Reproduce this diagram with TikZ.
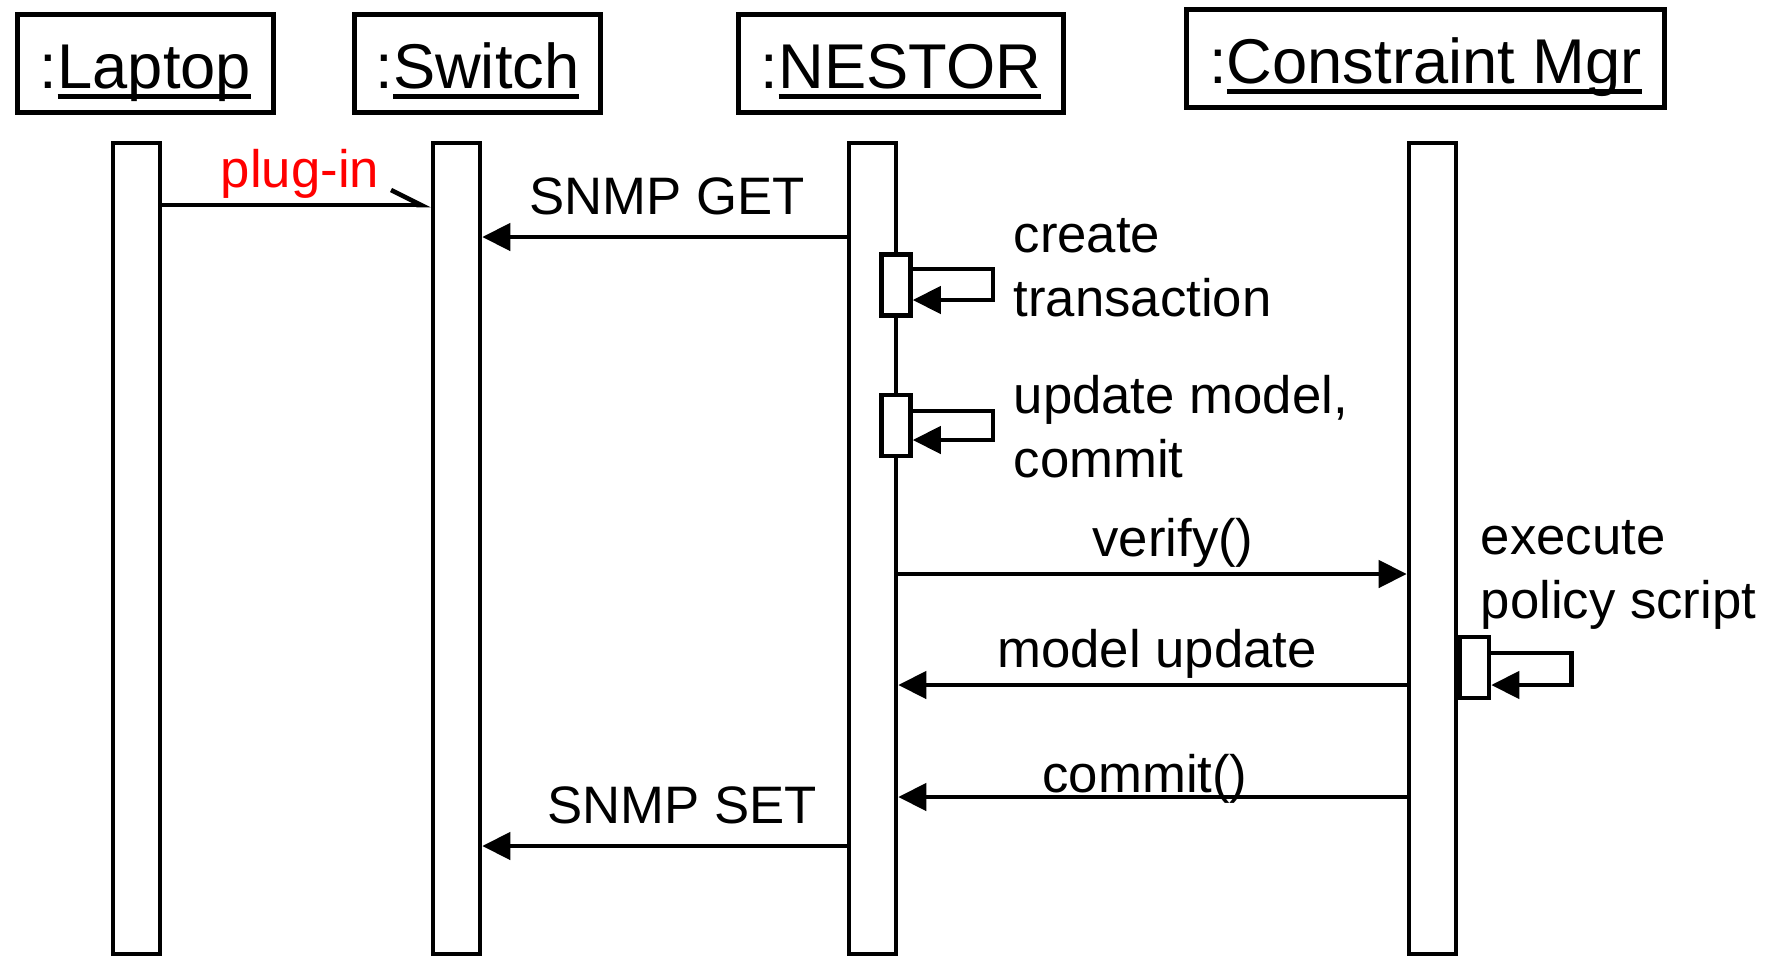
\documentclass[tikz,border=0pt]{standalone}
\usepackage{fontspec}
\setmainfont{Liberation Sans}
\usetikzlibrary{arrows.meta}
% 对象名下划线
\newcommand{\objul}[1]{\setbox0=\hbox{#1}\rlap{\rule[-3pt]{\wd0}{1.3pt}}\box0}
\tikzset{
  head/.style={draw, line width=1.3pt, inner sep=0pt, minimum height=9.8mm,
    font=\fontsize{18pt}{21pt}\selectfont, text height=16pt, text depth=2pt},
  life/.style={draw, line width=1.3pt, fill=white, inner sep=0pt,
    minimum width=4.7mm, minimum height=81.1mm},
  act/.style={draw, line width=1.3pt, fill=white, inner sep=0pt,
    minimum width=2.9mm, minimum height=6.1mm},
  msg/.style={line width=1.3pt, -{Triangle[length=2.8mm,width=2.7mm]}},
  lbl/.style={font=\fontsize{15pt}{18.2pt}\selectfont, inner sep=0pt, anchor=base},
}
\begin{document}
\begin{tikzpicture}[x=0.1mm, y=-0.1mm]
    \useasboundingbox (0,0) rectangle (1778,957);

    % 对象框
    \node[head, minimum width=25.6mm] (laptop) at (145.5,63.5) {:\objul{Laptop}};
    \node[head, minimum width=24.6mm] (switch) at (477.5,63.5) {:\objul{Switch}};
    \node[head, minimum width=32.5mm] (nestor) at (901,63.5) {:\objul{NESTOR}};
    \node[head, minimum width=47.8mm] (cmgr) at (1425.5,58.5) {:\objul{Constraint Mgr}};

    % 生命线
    \node[life] (laptopline) at (136.5,548.5) {};
    \node[life] (switchline) at (456.5,548.5) {};
    \node[life] (nestorline) at (872.5,548.5) {};
    \node[life] (cmgrline) at (1432.5,548.5) {};

    % 激活框
    \node[act] (act1) at (896,285) {};
    \node[act] (act2) at (896,425.5) {};
    \node[act] (act3) at (1474.5,667.5) {};

    % 消息的高度
    \coordinate (plug) at (0,205);
    \coordinate (get) at (0,237);
    \coordinate (ver) at (0,574);
    \coordinate (upd) at (0,685);
    \coordinate (com) at (0,797);
    \coordinate (set) at (0,846);

    % plug-in（半箭头）
    \draw[line width=1.3pt, -{Straight Barb[left,length=3mm,width=3mm]}]
        (laptopline.east |- plug) -- (switchline.west |- plug);
    \node[lbl, red] (plugtxt) at (300,187) {plug-in};

    % SNMP GET
    \draw[msg] (nestorline.west |- get) -- (switchline.east |- get);
    \node[lbl] (gettxt) at (667,214) {SNMP GET};

    % 自调用
    \draw[msg] ([yshift=1.6mm]act1.east) -- ++(80,0) |- ([yshift=-1.5mm]act1.east);
    \node[lbl, anchor=base west, align=left] (cretxt) at (1013,316) {create\\transaction};
    \draw[msg] ([yshift=1.45mm]act2.east) -- ++(80,0) |- ([yshift=-1.45mm]act2.east);
    \node[lbl, anchor=base west, align=left] (modtxt) at (1013,477) {update model,\\commit};

    % NESTOR 与 Constraint Mgr
    \draw[msg] (nestorline.east |- ver) -- (cmgrline.west |- ver);
    \node[lbl] (vertxt) at (1173,556) {verify()};
    \draw[msg] ([yshift=1.45mm]act3.east) -- ++(80,0) |- ([yshift=-1.75mm]act3.east);
    \node[lbl, anchor=base west, align=left] (exetxt) at (1480,618) {execute\\policy script};
    \draw[msg] (cmgrline.west |- upd) -- (nestorline.east |- upd);
    \node[lbl] (updtxt) at (1157,667) {model update};
    \draw[msg] (cmgrline.west |- com) -- (nestorline.east |- com);
    \node[lbl] (comtxt) at (1145,792) {commit()};

    % SNMP SET
    \draw[msg] (nestorline.west |- set) -- (switchline.east |- set);
    \node[lbl] (settxt) at (682,823) {SNMP SET};
\end{tikzpicture}
\end{document}
